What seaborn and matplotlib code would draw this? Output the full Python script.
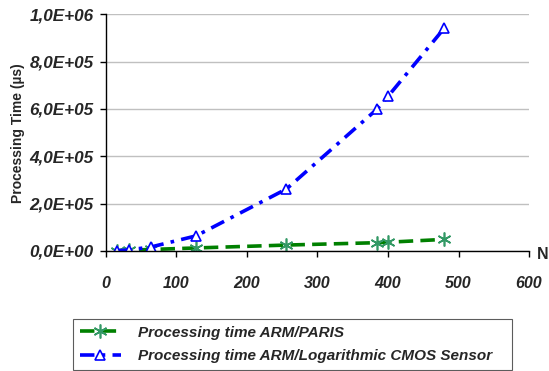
import matplotlib
matplotlib.use("Agg")
import matplotlib.pyplot as plt
from matplotlib.ticker import FuncFormatter
import seaborn as sns

n_values = [16, 32, 64, 128, 256, 384, 400, 480]
paris_time = [1600, 3200, 6400, 12800, 25000, 35000, 37000, 49000]
cmos_time = [1000, 4200, 17000, 64000, 262000, 598000, 653000, 942000]

label_paris = "Processing time ARM/PARIS"
label_cmos = "Processing time ARM/Logarithmic CMOS Sensor"

sns.set_style("white")
plt.rcParams["font.family"] = ["Liberation Sans", "DejaVu Sans"]

fig = plt.figure(figsize=(5.49, 3.71), dpi=100)
ax = fig.add_axes([0.193, 0.3235, 0.7706, 0.638])

sns.lineplot(x=n_values, y=paris_time, ax=ax, color="#008000", linewidth=2.6,
             linestyle=(0, (4, 2)), marker=(6, 2, 0), markersize=10,
             markeredgecolor="#339966", markeredgewidth=1.2, label=label_paris)
sns.lineplot(x=n_values, y=cmos_time, ax=ax, color="#0000ff", linewidth=2.6,
             linestyle=(0, (4, 2, 1, 2)), marker="^", markersize=7,
             markerfacecolor="white", markeredgecolor="#0000ff",
             markeredgewidth=1.2, label=label_cmos)

ax.set_xlim(0, 600)
ax.set_ylim(0, 1.0e6)
ax.set_xticks(range(0, 601, 100))
ax.set_yticks([0, 2e5, 4e5, 6e5, 8e5, 1e6])
ax.yaxis.set_major_formatter(FuncFormatter(lambda v, _: f"{v:.1E}".replace(".", ",")))
ax.grid(axis="y", color="#c0c0c0", linewidth=1)
ax.grid(axis="x", visible=False)
for side in ["top", "right"]:
    ax.spines[side].set_visible(False)
for side in ["left", "bottom"]:
    ax.spines[side].set_color("black")
    ax.spines[side].set_linewidth(1)
ax.tick_params(axis="both", direction="out", length=4, width=1, color="black",
               left=True, bottom=True)
ax.tick_params(axis="x", labelsize=11.5, pad=14)
ax.tick_params(axis="y", labelsize=12.3, pad=5)
for lbl in ax.get_xticklabels() + ax.get_yticklabels():
    lbl.set_fontweight("bold")
    lbl.set_fontstyle("italic")

ax.set_ylabel("Processing Time (µs)", fontsize=10, fontweight="bold", labelpad=3)
ax.set_xlabel("")
ax.text(1.018, -0.015, "N", transform=ax.transAxes, fontsize=11.5, fontweight="bold",
        ha="left", va="center")

leg = ax.legend(loc="upper left", bbox_to_anchor=(-0.078, -0.287, 1.038, 0.0),
                mode="expand", frameon=True, fancybox=False, edgecolor="#333333",
                borderpad=0.45, handlelength=2.7, handletextpad=1.1,
                labelspacing=0.6, borderaxespad=0,
                prop={"size": 11, "weight": "bold", "style": "italic"})
leg.get_frame().set_linewidth(0.8)

fig.savefig("out.png", dpi=100)
